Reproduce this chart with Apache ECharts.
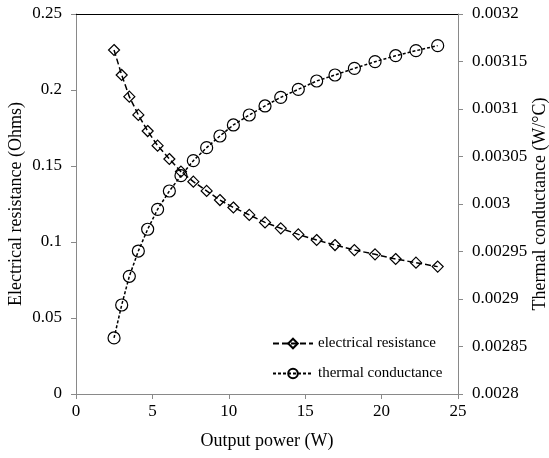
<!DOCTYPE html>
<html>
<head>
<meta charset="utf-8">
<script src="https://cdn.jsdelivr.net/npm/echarts@6/dist/echarts.min.js"></script>
<style>
html,body{margin:0;padding:0;background:#fff;}
#chart{width:549px;height:458px;}
</style>
</head>
<body>
<div id="chart"></div>
<script>
// Output power (W)
var power = [2.49, 2.99, 3.49, 4.08, 4.69, 5.34, 6.11, 6.87, 7.68, 8.55, 9.42, 10.3, 11.34, 12.37, 13.4, 14.55, 15.75, 16.95, 18.22, 19.57, 20.92, 22.25, 23.67];
// Electrical resistance (Ohms)
var resistance = [0.2263, 0.2099, 0.1956, 0.1836, 0.1730, 0.1634, 0.1546, 0.1463, 0.1397, 0.1336, 0.1276, 0.1227, 0.1178, 0.1129, 0.1090, 0.1050, 0.1013, 0.0980, 0.0947, 0.0919, 0.0888, 0.0864, 0.0838];
// Thermal conductance (W/°C)
var conductance = [0.002859, 0.0028937, 0.0029239, 0.0029505, 0.0029734, 0.0029944, 0.0030137, 0.0030298, 0.0030456, 0.0030593, 0.0030716, 0.0030832, 0.0030937, 0.0031032, 0.0031123, 0.0031207, 0.0031295, 0.0031358, 0.0031428, 0.0031498, 0.0031561, 0.0031614, 0.0031667];

var seriesNames = ['electrical resistance', 'thermal conductance'];
var xAxisTitle = 'Output power (W)';
var yLeftTitle = 'Electrical resistance (Ohms)';
var yRightTitle = 'Thermal conductance (W/°C)';

function pairs(xs, ys) { return xs.map(function (x, i) { return [x, ys[i]]; }); }

var FONT = 'Liberation Serif';
var AXIS_GRAY = '#898989';

var chart = echarts.init(document.getElementById('chart'), null, {renderer: 'canvas'});
chart.setOption({
  animation: false,
  backgroundColor: '#fff',
  grid: {left: 76, right: 91, top: 14, bottom: 64, containLabel: false, outerBoundsMode: 'none'},
  legend: {
    orient: 'vertical',
    left: 272, top: 336, padding: 0,
    itemWidth: 40, itemHeight: 12, itemGap: 15,
    textStyle: {fontFamily: FONT, fontSize: 15, color: '#000'},
    data: seriesNames
  },
  xAxis: [{
    type: 'value', min: 0, max: 25, interval: 5,
    name: xAxisTitle, nameLocation: 'middle', nameGap: 38, nameMoveOverlap: false,
    nameTextStyle: {fontFamily: FONT, fontSize: 18, color: '#000'},
    axisLine: {show: true, onZero: false, lineStyle: {color: AXIS_GRAY, width: 1}},
    axisTick: {show: true, inside: false, length: 5, lineStyle: {color: AXIS_GRAY}},
    axisLabel: {fontFamily: FONT, fontSize: 17, color: '#000', margin: 9},
    splitLine: {show: false}
  }, {
    type: 'value', min: 0, max: 25, position: 'top',
    axisLine: {show: true, onZero: false, lineStyle: {color: '#000', width: 1}},
    axisTick: {show: false}, axisLabel: {show: false}, splitLine: {show: false}
  }],
  yAxis: [{
    type: 'value', min: 0, max: 0.25, interval: 0.05, position: 'left',
    name: yLeftTitle, nameLocation: 'middle', nameGap: 51, nameRotate: 90, nameMoveOverlap: false,
    nameTextStyle: {fontFamily: FONT, fontSize: 18, color: '#000'},
    axisLine: {show: true, onZero: false, lineStyle: {color: AXIS_GRAY, width: 1}},
    axisTick: {show: true, inside: false, length: 5, lineStyle: {color: AXIS_GRAY}},
    axisLabel: {fontFamily: FONT, fontSize: 17, color: '#000', margin: 14},
    splitLine: {show: false}
  }, {
    type: 'value', min: 0.0028, max: 0.0032, interval: 0.00005, position: 'right',
    name: yRightTitle, nameLocation: 'middle', nameGap: 73, nameRotate: 90, nameMoveOverlap: false,
    nameTextStyle: {fontFamily: FONT, fontSize: 18, color: '#000'},
    axisLine: {show: true, onZero: false, lineStyle: {color: AXIS_GRAY, width: 1}},
    axisTick: {show: true, inside: false, length: 5, lineStyle: {color: AXIS_GRAY}},
    axisLabel: {fontFamily: FONT, fontSize: 17, color: '#000', margin: 14,
      formatter: function (v) { return String(parseFloat(v.toPrecision(6))); }},
    splitLine: {show: false}
  }],
  series: [{
    name: seriesNames[0], type: 'line', xAxisIndex: 0, yAxisIndex: 0,
    data: pairs(power, resistance),
    symbol: 'diamond', symbolSize: 11,
    lineStyle: {color: '#000', width: 1.5, type: [6, 3]},
    itemStyle: {color: 'rgba(0,0,0,0)', borderColor: '#000', borderWidth: 1.2},
    z: 3
  }, {
    name: seriesNames[1], type: 'line', xAxisIndex: 0, yAxisIndex: 1,
    data: pairs(power, conductance),
    symbol: 'circle', symbolSize: 12,
    lineStyle: {color: '#000', width: 1.5, type: [3, 2]},
    itemStyle: {color: 'rgba(0,0,0,0)', borderColor: '#000', borderWidth: 1.2},
    z: 2
  }]
});
</script>
</body>
</html>
